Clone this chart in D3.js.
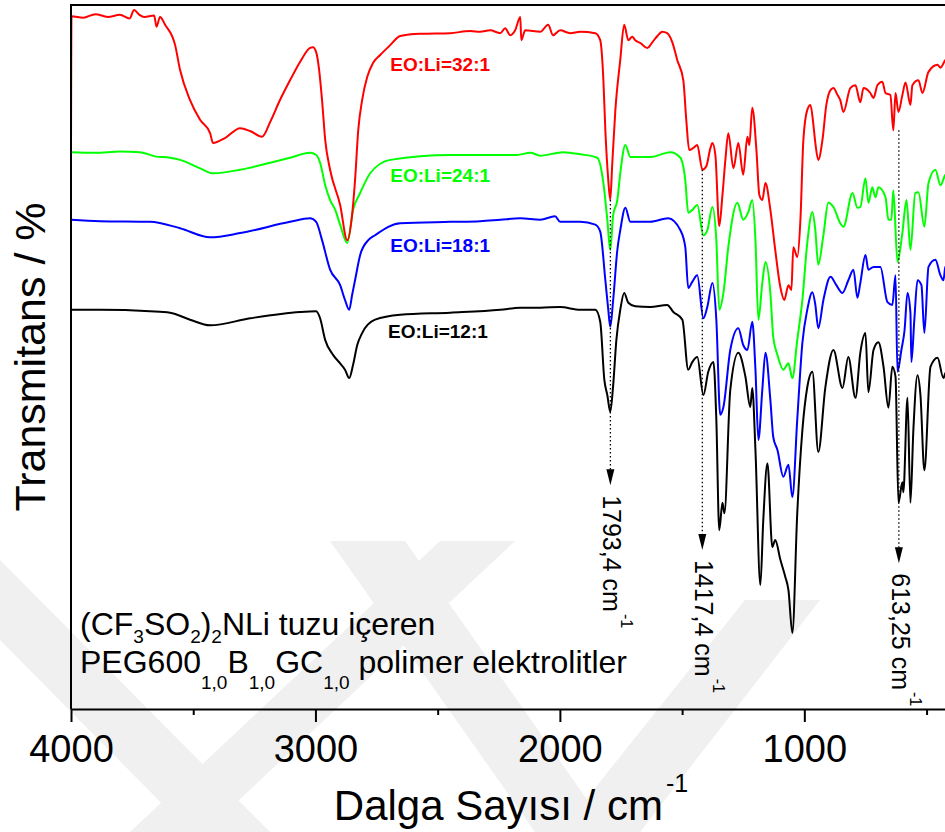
<!DOCTYPE html>
<html lang="tr">
<head>
<meta charset="utf-8">
<script src="https://d3js.org/d3.v7.min.js"></script>
<style>
  body { margin: 0; background: #fff; }
  svg { display: block; font-family: "Liberation Sans", Arial, sans-serif; }
</style>
</head>
<body>
<svg id="chart" width="945" height="832"></svg>
<script>
// FTIR spectra, [wavenumber cm-1, relative transmittance]
const spectrum32 = [
  [4000, 79.4], [3998, 98.4], [3950, 98.2], [3900, 98.7], [3850, 98.3], [3800, 98.6], [3760, 98.1],
  [3742, 99.3], [3720, 98.6], [3700, 98.3], [3660, 98.5], [3650, 96.9], [3636, 98.3], [3615, 97.2],
  [3574, 94.3], [3554, 90.8], [3513, 86.5], [3472, 83.7], [3431, 81.8], [3419, 80.4], [3370, 81.1],
  [3308, 82.5], [3267, 82.1], [3218, 81.3], [3185, 83.4], [3145, 86.5], [3104, 89.3], [3063, 91.9],
  [3022, 93.9], [3010, 94.0], [2997, 93.3], [2985, 90.8], [2973, 86.5], [2960, 80.8], [2940, 76.6],
  [2899, 71.6], [2870, 66.6], [2850, 70.2], [2838, 75.1], [2825, 82.2], [2809, 86.5], [2788, 89.8],
  [2764, 91.8], [2735, 92.9], [2694, 94.3], [2653, 95.6], [2571, 95.9], [2449, 96.0], [2367, 96.3],
  [2326, 96.2], [2285, 96.4], [2244, 96.0], [2224, 96.7], [2203, 95.7], [2183, 96.4], [2162, 98.3],
  [2158, 95.0], [2142, 96.4], [2080, 96.2], [2048, 97.2], [2028, 95.7], [1999, 96.4], [1958, 96.0],
  [1917, 96.2], [1855, 96.0], [1835, 95.0], [1822, 89.3], [1814, 82.2], [1802, 75.1], [1794, 72.3],
  [1786, 77.3], [1773, 85.1], [1753, 92.2], [1737, 97.2], [1720, 95.0], [1704, 95.5], [1692, 95.0],
  [1671, 94.6], [1642, 93.9], [1622, 94.7], [1601, 95.6], [1581, 96.2], [1561, 96.0], [1540, 94.7],
  [1520, 92.2], [1495, 89.3], [1483, 83.7], [1471, 79.4], [1454, 79.7], [1438, 80.1], [1417, 76.6],
  [1401, 77.1], [1384, 79.7], [1376, 80.4], [1364, 78.7], [1348, 68.6], [1335, 73.0], [1323, 78.0],
  [1311, 81.8], [1290, 76.8], [1270, 80.4], [1250, 75.9], [1233, 81.3], [1225, 80.1], [1213, 85.4],
  [1196, 79.4], [1184, 73.0], [1172, 72.3], [1159, 74.7], [1139, 70.9], [1119, 65.2], [1098, 59.9],
  [1082, 58.1], [1065, 60.2], [1053, 59.5], [1045, 65.6], [1029, 64.2], [1016, 69.5], [1004, 80.8],
  [988, 85.1], [975, 85.8], [963, 83.0], [955, 80.4], [943, 78.0], [926, 80.8], [910, 85.8],
  [893, 87.9], [881, 88.2], [864, 87.2], [853, 86.5], [840, 84.8], [812, 88.2], [791, 88.6],
  [771, 86.2], [758, 88.2], [730, 87.5], [717, 86.8], [701, 88.6], [681, 89.1], [668, 87.5],
  [648, 87.2], [636, 82.2], [627, 87.5], [615, 84.8], [599, 87.2], [586, 89.0], [566, 85.8],
  [558, 88.6], [533, 89.3], [517, 87.5], [492, 90.5], [455, 91.5], [443, 91.1], [423, 92.2], [400, 92.6]
];

const spectrum24 = [
  [4000, 79.1], [3900, 79.0], [3800, 79.2], [3718, 79.1], [3656, 78.5], [3595, 78.3], [3554, 78.0],
  [3472, 76.8], [3419, 76.1], [3308, 76.6], [3185, 77.6], [3104, 78.3], [3022, 79.0], [2997, 78.7],
  [2981, 77.6], [2960, 74.4], [2940, 72.3], [2919, 70.9], [2899, 68.8], [2870, 66.2], [2846, 70.9],
  [2817, 73.3], [2776, 76.1], [2694, 78.0], [2449, 78.7], [2175, 78.7], [2121, 79.0], [2080, 78.6],
  [1986, 79.1], [1917, 78.8], [1847, 78.3], [1822, 74.7], [1806, 69.5], [1794, 65.2], [1782, 70.2],
  [1765, 72.3], [1753, 76.1], [1732, 80.1], [1712, 78.4], [1630, 78.4], [1548, 79.1], [1507, 78.3],
  [1487, 75.1], [1475, 70.5], [1458, 70.9], [1438, 71.6], [1413, 67.3], [1397, 68.0], [1376, 71.3],
  [1360, 66.6], [1348, 56.7], [1331, 59.1], [1311, 65.6], [1274, 71.9], [1250, 69.5], [1229, 70.6],
  [1213, 72.3], [1200, 66.6], [1188, 55.3], [1172, 60.5], [1159, 63.5], [1139, 59.1], [1127, 52.8],
  [1110, 50.3], [1086, 48.2], [1065, 49.1], [1049, 47.0], [1029, 52.4], [1008, 58.1], [988, 66.2],
  [967, 70.6], [955, 68.0], [943, 63.1], [922, 67.3], [902, 71.9], [881, 71.3], [853, 69.0],
  [840, 68.5], [803, 73.3], [783, 71.2], [771, 71.3], [750, 75.4], [738, 71.9], [722, 74.1],
  [709, 72.7], [697, 74.1], [668, 72.7], [656, 69.5], [644, 69.5], [636, 73.7], [619, 63.5],
  [599, 67.6], [582, 72.3], [566, 65.2], [546, 73.3], [533, 73.4], [509, 68.5], [492, 74.7],
  [464, 76.6], [443, 74.4], [423, 75.9], [400, 76.3]
];

const spectrum18 = [
  [4000, 69.5], [3881, 69.3], [3677, 69.2], [3554, 68.3], [3431, 67.0], [3308, 67.6], [3104, 69.2],
  [3022, 69.7], [2997, 69.2], [2973, 66.6], [2940, 62.4], [2899, 60.2], [2879, 58.1], [2862, 56.7],
  [2850, 58.8], [2838, 60.9], [2817, 64.5], [2784, 66.6], [2756, 67.3], [2653, 69.0], [2449, 69.2],
  [2326, 69.3], [2244, 69.5], [2162, 69.7], [2080, 69.5], [2020, 70.0], [1999, 69.2], [1917, 69.2],
  [1855, 68.8], [1835, 67.8], [1814, 60.9], [1802, 56.7], [1794, 54.3], [1782, 58.1], [1765, 65.2],
  [1753, 68.0], [1732, 71.2], [1712, 69.2], [1630, 69.2], [1557, 69.7], [1507, 68.0], [1487, 65.6],
  [1475, 59.8], [1458, 60.7], [1438, 61.6], [1413, 55.5], [1397, 57.1], [1376, 60.5], [1360, 55.3],
  [1344, 41.8], [1331, 42.9], [1303, 51.0], [1270, 54.1], [1250, 51.7], [1233, 51.0], [1213, 55.0],
  [1200, 48.2], [1188, 38.2], [1172, 45.3], [1159, 50.6], [1139, 43.9], [1127, 38.6], [1110, 36.8],
  [1086, 33.0], [1065, 34.7], [1049, 30.1], [1029, 41.1], [1008, 52.0], [988, 56.7], [967, 59.2],
  [955, 57.4], [943, 54.1], [922, 58.1], [893, 61.4], [869, 60.2], [844, 59.1], [820, 60.9],
  [799, 62.4], [783, 58.4], [771, 60.5], [750, 64.5], [738, 62.4], [717, 62.8], [689, 62.8],
  [660, 57.8], [640, 57.4], [627, 61.6], [619, 47.9], [603, 51.0], [590, 53.8], [578, 59.1],
  [566, 56.3], [562, 49.3], [550, 55.3], [537, 60.9], [521, 60.2], [509, 53.4], [492, 62.8],
  [464, 63.8], [443, 61.6], [431, 60.9], [423, 62.8], [400, 63.1]
];

const spectrum12 = [
  [4000, 56.7], [3881, 56.7], [3677, 56.5], [3595, 56.3], [3513, 55.3], [3431, 54.5], [3267, 55.5],
  [3063, 56.4], [2997, 56.5], [2981, 55.5], [2960, 52.4], [2928, 50.3], [2899, 49.1], [2879, 48.2],
  [2862, 47.0], [2846, 48.9], [2829, 51.7], [2809, 53.4], [2756, 55.3], [2653, 56.0], [2449, 56.3],
  [2244, 56.7], [2162, 57.0], [2080, 57.0], [1999, 57.1], [1917, 56.7], [1855, 56.7], [1835, 55.0],
  [1818, 46.7], [1806, 44.6], [1794, 42.2], [1782, 46.0], [1769, 52.4], [1753, 56.7], [1737, 59.1],
  [1720, 57.7], [1692, 57.2], [1630, 57.1], [1561, 57.4], [1536, 56.4], [1499, 55.3], [1475, 48.2],
  [1458, 49.3], [1438, 50.0], [1413, 44.6], [1393, 47.9], [1372, 49.3], [1360, 41.1], [1348, 25.4],
  [1335, 29.3], [1327, 27.8], [1303, 45.3], [1270, 50.6], [1241, 47.2], [1221, 42.9], [1213, 45.6],
  [1200, 36.8], [1180, 17.6], [1168, 26.8], [1151, 34.9], [1131, 23.0], [1119, 24.0], [1098, 21.2],
  [1078, 18.8], [1065, 16.9], [1049, 10.8], [1029, 27.8], [1008, 39.6], [988, 45.7], [967, 47.9],
  [943, 36.5], [914, 45.7], [881, 51.0], [844, 45.6], [820, 50.0], [791, 44.2], [771, 50.6],
  [750, 53.4], [738, 45.0], [717, 51.0], [697, 52.1], [676, 48.6], [656, 42.8], [640, 48.6],
  [627, 47.2], [615, 29.3], [599, 32.2], [595, 30.8], [578, 44.2], [566, 29.3], [554, 39.6],
  [537, 47.4], [525, 44.6], [509, 33.9], [484, 48.6], [455, 49.9], [431, 47.0], [423, 47.7], [400, 48.2]
];

const seriesNames = ["EO:Li=12:1", "EO:Li=18:1", "EO:Li=24:1", "EO:Li=32:1"];
const seriesColors = ["#000000", "#0000ff", "#00ff00", "#ff0000"];
const seriesData = [spectrum12, spectrum18, spectrum24, spectrum32];
const labelAt = [[2703, 52.7], [2694, 64.9], [2694, 74.9], [2694, 90.6]];

const majorTicks = [4000, 3000, 2000, 1000];
const minorTicks = [3500, 2500, 1500, 500];

// marked bands: wavenumber, label, arrow from / to (transmittance)
const peaks = [1793.4, 1417.4, 613.25];
const peakLabels = ["1793,4", "1417,4", "613,25"];
const arrowFrom = [72.3, 76.6, 82.2];
const arrowTo = [31.8, 22.6, 20.7];

const svg = d3.select("#chart");
const x = d3.scaleLinear().domain([4000, 400]).range([71, 951]);
const y = d3.scaleLinear().domain([0, 100]).range([709, 5]);

// faint background watermark
const wm = svg.append("g").attr("fill", "#f0f0f0");
[
  [[130, 832], [205, 832], [515, 541], [440, 541]],
  [[0, 560], [0, 640], [190, 832], [270, 832]],
  [[560, 832], [640, 832], [820, 600], [745, 600]],
  [[330, 541], [405, 541], [610, 832], [535, 832]]
].forEach(p => wm.append("polygon").attr("points", p.join(" ")));

svg.append("clipPath").attr("id", "plot").append("rect")
  .attr("x", 71).attr("y", 5).attr("width", 880).attr("height", 704);

const line = d3.line()
  .x(d => x(d[0]))
  .y(d => y(d[1]))
  .curve(d3.curveMonotoneX);

const curves = svg.append("g").attr("clip-path", "url(#plot)");
seriesData.forEach((s, i) => {
  curves.append("path")
    .datum(s)
    .attr("d", line)
    .attr("fill", "none")
    .attr("stroke", seriesColors[i])
    .attr("stroke-width", 2)
    .attr("stroke-linejoin", "round");
});

seriesNames.forEach((n, i) => {
  svg.append("text")
    .attr("x", x(labelAt[i][0]))
    .attr("y", y(labelAt[i][1]))
    .attr("fill", seriesColors[i])
    .attr("font-size", 19)
    .attr("font-weight", "bold")
    .text(n);
});

// arrows to the marked bands
peaks.forEach((p, i) => {
  const px = x(p);
  const tip = y(arrowTo[i]);
  svg.append("line")
    .attr("x1", px).attr("x2", px)
    .attr("y1", y(arrowFrom[i])).attr("y2", tip - 14)
    .attr("stroke", "#000")
    .attr("stroke-width", 1.3)
    .attr("stroke-dasharray", "1.5,2.5");
  svg.append("path")
    .attr("d", `M${px - 4},${tip - 16}L${px + 4},${tip - 16}L${px},${tip}Z`)
    .attr("fill", "#000");
  const t = svg.append("text")
    .attr("transform", `translate(${px - 7},${tip + 10}) rotate(90)`)
    .attr("font-size", 25);
  t.append("tspan").text(peakLabels[i] + " cm");
  t.append("tspan").attr("font-size", 16).attr("dy", -18).attr("dx", 2).text("-1");
});

// axes and frame
const xAxis = svg.append("g")
  .attr("transform", "translate(0,709)")
  .call(d3.axisBottom(x).tickValues(majorTicks).tickSize(13).tickSizeOuter(0)
    .tickPadding(13).tickFormat(d3.format("d")));
xAxis.selectAll("line").attr("stroke-width", 2);
xAxis.select(".domain").attr("stroke-width", 2);
xAxis.selectAll("text")
  .attr("font-size", 38)
  .attr("font-family", "Liberation Sans, Arial, sans-serif");

const xMinor = svg.append("g")
  .attr("transform", "translate(0,709)")
  .call(d3.axisBottom(x).tickValues(minorTicks).tickSize(6).tickSizeOuter(0).tickFormat(""));
xMinor.select(".domain").remove();
xMinor.selectAll("line").attr("stroke-width", 2);

svg.append("path")
  .attr("d", `M${x(4000)},${y(0)}V${y(100)}H${x(400)}`)
  .attr("fill", "none")
  .attr("stroke", "#000")
  .attr("stroke-width", 2);

const xl = svg.append("text")
  .attr("x", 511).attr("y", 820)
  .attr("text-anchor", "middle")
  .attr("font-size", 42);
xl.append("tspan").text("Dalga Sayısı / cm");
xl.append("tspan").attr("font-size", 25).attr("dy", -28).attr("dx", 3).text("-1");

svg.append("text")
  .attr("transform", "translate(45,357) rotate(-90)")
  .attr("text-anchor", "middle")
  .attr("font-size", 43)
  .text("Transmitans / %");

// sample description
const d1 = svg.append("text").attr("x", 80).attr("y", 635).attr("font-size", 32);
d1.append("tspan").text("(CF");
d1.append("tspan").attr("font-size", 19).attr("dy", 8).text("3");
d1.append("tspan").attr("dy", -8).text("SO");
d1.append("tspan").attr("font-size", 19).attr("dy", 8).text("2");
d1.append("tspan").attr("dy", -8).text(")");
d1.append("tspan").attr("font-size", 19).attr("dy", 8).text("2");
d1.append("tspan").attr("dy", -8).text("NLi tuzu içeren");

const d2 = svg.append("text").attr("x", 80).attr("y", 673).attr("font-size", 32);
d2.append("tspan").text("PEG600");
d2.append("tspan").attr("font-size", 19).attr("dy", 16).text("1,0");
d2.append("tspan").attr("dy", -16).text("B");
d2.append("tspan").attr("font-size", 19).attr("dy", 16).text("1,0");
d2.append("tspan").attr("dy", -16).text("GC");
d2.append("tspan").attr("font-size", 19).attr("dy", 16).text("1,0");
d2.append("tspan").attr("dy", -16).text(" polimer elektrolitler");
</script>
</body>
</html>
